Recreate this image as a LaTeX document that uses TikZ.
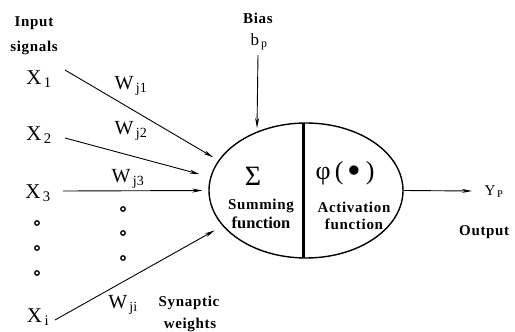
\documentclass[tikz,border=0pt]{standalone}
\usepackage{fontspec}
\setmainfont{Liberation Serif}
\newfontfamily\lblfont[LetterSpace=4.5]{Liberation Serif}
\usetikzlibrary{shapes.geometric,arrows.meta}
\begin{document}
\begin{tikzpicture}[x=1pt,y=-1pt,
  sym/.style={font=\fontsize{21}{23}\selectfont, inner sep=0pt},
  lbl/.style={font=\lblfont\bfseries\fontsize{15}{16}\selectfont, inner sep=0pt, align=center},
  wt/.style={font=\fontsize{20}{22}\selectfont, inner sep=0pt},
  dotc/.style={circle, draw, line width=1.3pt, minimum width=4.5pt, minimum height=3.5pt, inner sep=0pt},
  arr/.style={line width=0.9pt, -{Stealth[length=10pt,width=4pt]}}]
\useasboundingbox (0,0) rectangle (515,332);

\node[ellipse, draw, line width=1.4pt, minimum width=194pt, minimum height=135pt, inner sep=0pt] (e) at (306,190.5) {};
\coordinate (dt) at (303,123);
\coordinate (db) at (303,258);
\draw[line width=3pt] (dt) -- (db);

\node[font=\fontsize{28}{30}\selectfont, inner sep=0pt] (sig) at (253,176) {Σ};
\node[font=\fontsize{26}{28}\selectfont, inner sep=0pt] (phi) at (345,173) {φ\,(\,\raisebox{-0.35ex}{\scalebox{1.5}{•}}\,)};
\node[lbl] (sum1) at (261,206) {Summing};
\node[font=\bfseries\fontsize{16.5}{17}\selectfont, inner sep=0pt] (sum2) at (261,223) {function};
\node[lbl] (act1) at (354,207) {Activation};
\node[lbl] (act2) at (354,224) {function};

% inputs
\node[lbl] (in1) at (34,23) {Input};
\node[lbl] (in2) at (34,48) {signals};
\node[sym] (x1) at (39,79) {X\textsubscript{\,1}};
\node[sym] (x2) at (39,135) {X\textsubscript{\,2}};
\node[sym] (x3) at (38,193) {X\textsubscript{\,3}};
\node[dotc] (d1) at (37,223) {};
\node[dotc] (d2) at (37,248) {};
\node[dotc] (d3) at (37,273) {};
\node[sym] (xi) at (38,317) {X\textsubscript{\,i}};

% weights
\node[wt] (w1) at (131,86) {W\textsubscript{\,j1}};
\node[wt] (w2) at (131,131) {W\textsubscript{\,j2}};
\node[wt] (w3) at (128,179) {W\textsubscript{\,j3}};
\node[dotc] (e1) at (123,209) {};
\node[dotc] (e2) at (123,233) {};
\node[dotc] (e3) at (123,258) {};
\node[wt] (wi) at (123,305) {W\textsubscript{\,ji}};
\node[lbl] (syn1) at (189,303) {Synaptic};
\node[lbl] (syn2) at (190,325) {weights};

% arrows
\draw[arr, shorten >=6pt] (65,70) coordinate (s1) -- (e.161);
\draw[arr, shorten >=11pt] (65,138) coordinate (s2) -- (e.172);
\draw[arr, shorten >=6pt] (63,191) coordinate (s3) -- (e.180);
\draw[arr, shorten >=9pt] (55,320) coordinate (si) -- (e.203);

% bias
\node[lbl] (bias) at (258,18) {Bias};
\node[sym, font=\fontsize{17}{19}\selectfont] (bp) at (259,42) {b\textsubscript{\,p}};
\coordinate (bt) at (257,128);
\draw[arr] (258,55) coordinate (bs) -- (bt);

% output
\coordinate (ot) at (472,191);
\draw[arr] (e.east) -- (ot);
\node[sym, font=\fontsize{15}{17}\selectfont] (yp) at (494,192) {Y\textsubscript{\,P}};
\node[lbl, anchor=west] (out) at (459,232) {Output};
\end{tikzpicture}
\end{document}
